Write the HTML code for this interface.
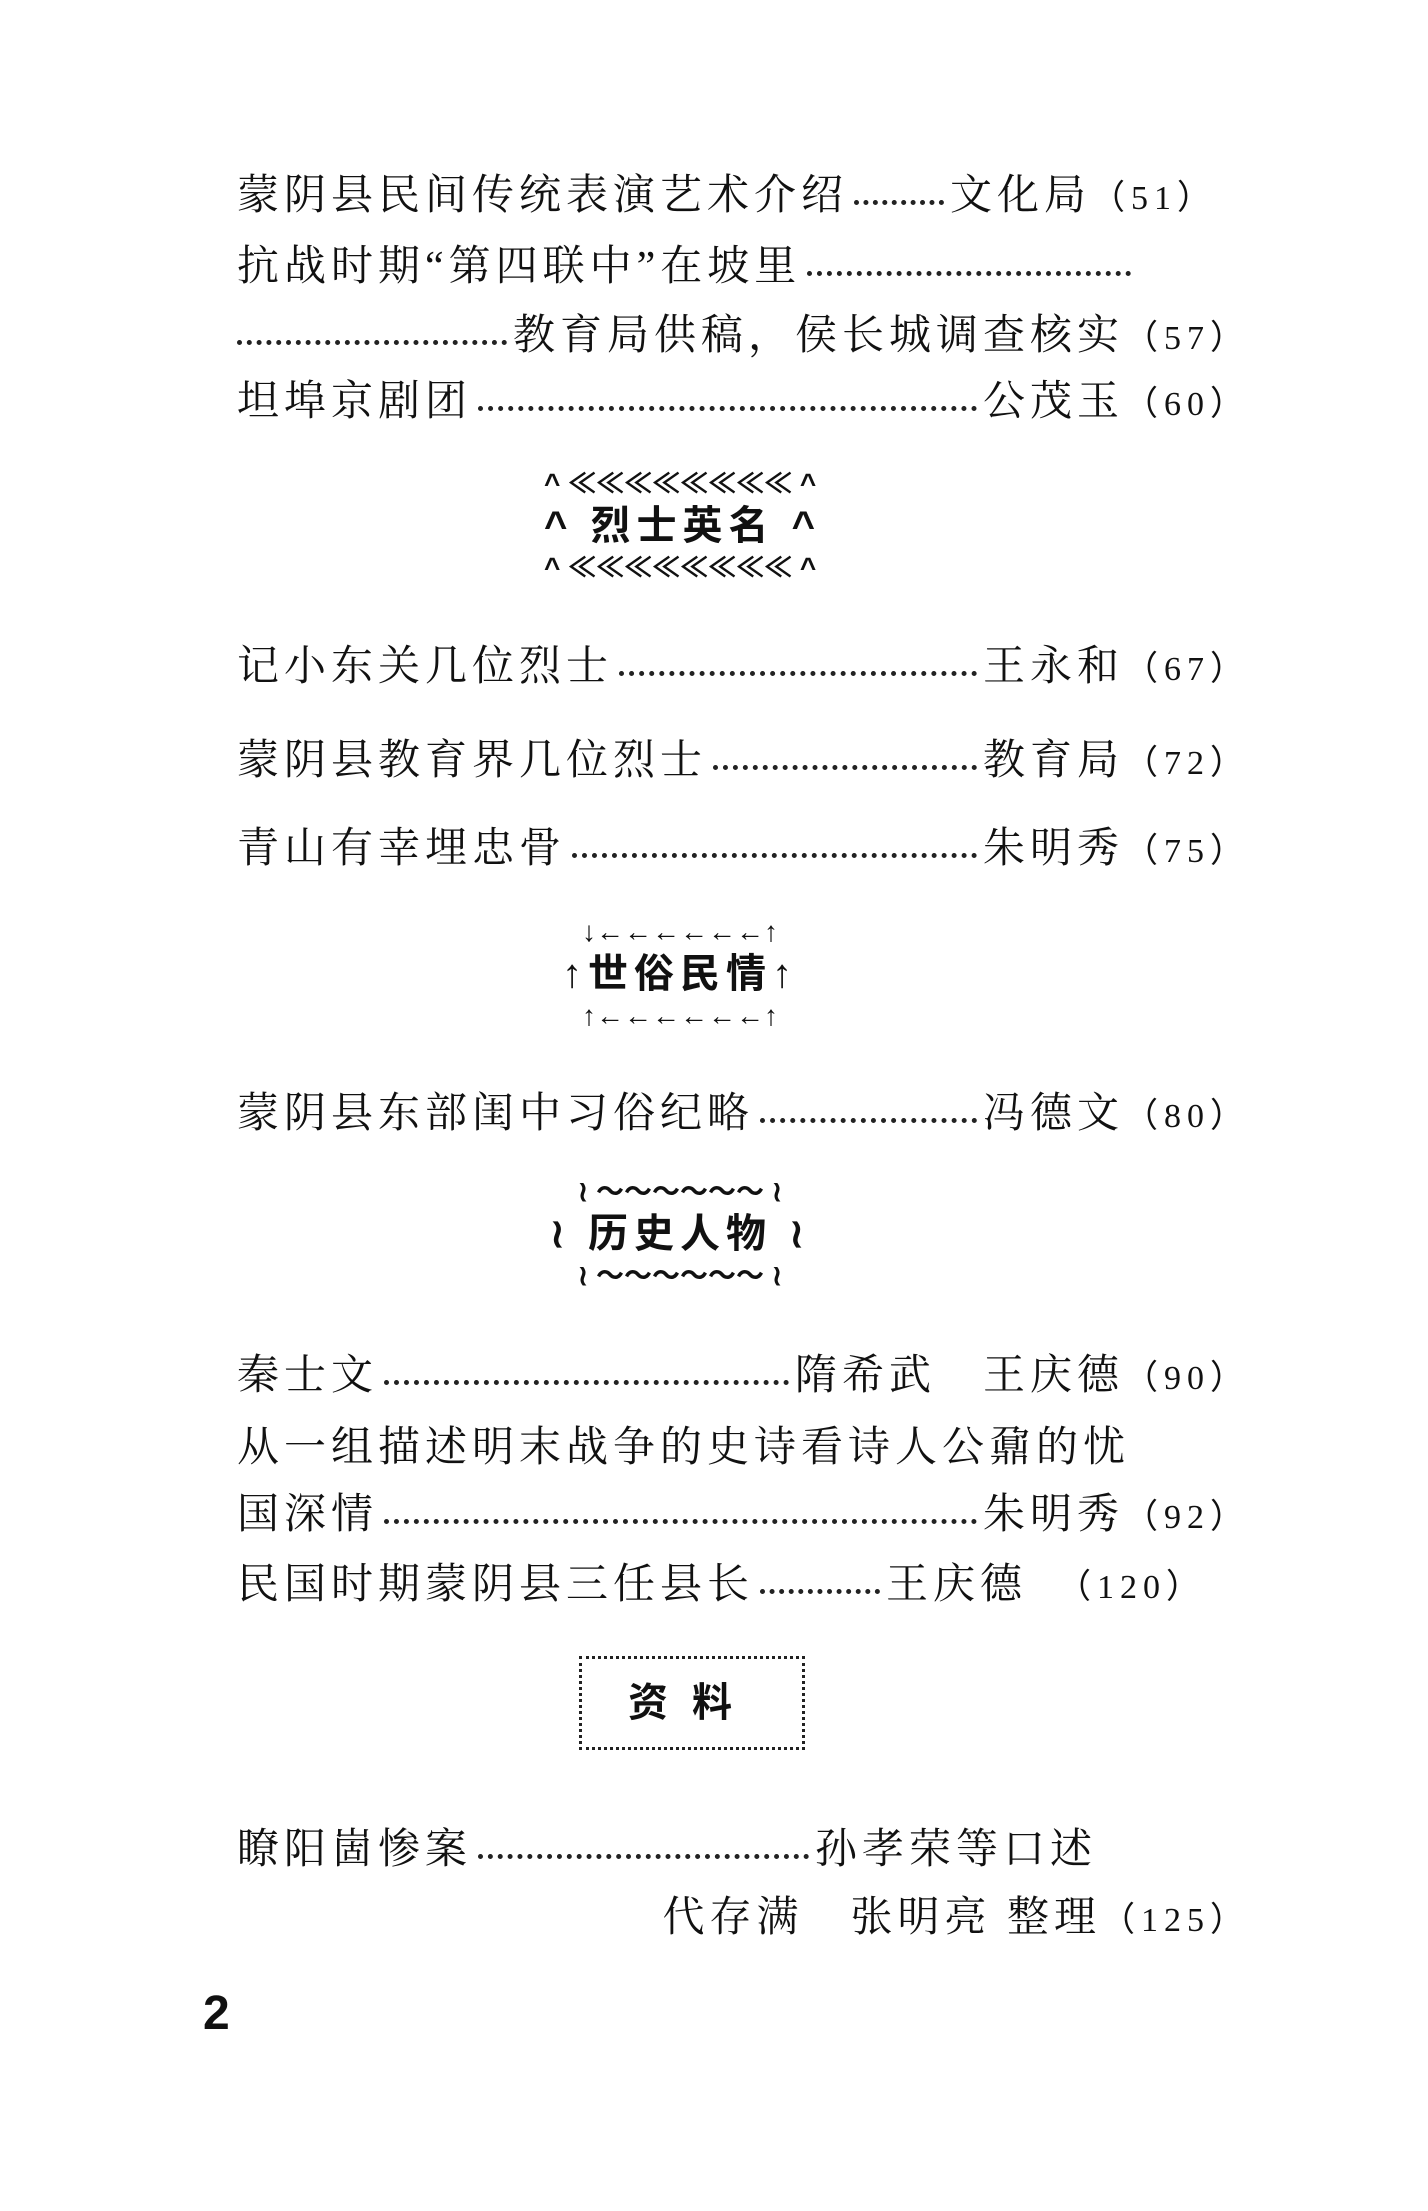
<!DOCTYPE html>
<html><head><meta charset="utf-8"><style>
body{margin:0;width:1428px;height:2211px;background:#fff;position:relative;font-family:"Liberation Serif","Noto Serif CJK SC","Noto Sans CJK SC",serif;color:#111;overflow:hidden}
.l{position:absolute;left:237px;width:1013px;display:flex;align-items:center;font-size:42px;letter-spacing:5px;height:60px;white-space:nowrap}
.d{flex:1;border-bottom:5px dotted #222;margin:0 6px;transform:translateY(10px)}
.n{font-family:"Liberation Serif",serif;font-size:34px;letter-spacing:6px}
.h{position:absolute;left:544px;width:272px;text-align:center;font-family:"Liberation Sans","Noto Sans CJK SC",sans-serif;font-weight:bold;color:#111}
.h .o{font-size:28px;letter-spacing:0px;height:40px;line-height:40px;font-weight:bold;white-space:nowrap}
.h .t{font-size:40px;letter-spacing:6px;height:44px;line-height:44px;white-space:nowrap}
</style></head><body>
<div class="l" style="top:162px"><span>蒙阴县民间传统表演艺术介绍</span><span class="d" style="flex:0 0 90px"></span><span>文化局<span class="n">（51）</span></span></div>
<div class="l" style="top:233px;width:900px"><span>抗战时期“第四联中”在坡里</span><span class="d"></span></div>
<div class="l" style="top:302px"><span class="d" style="margin-left:0"></span><span>教育局供稿，侯长城调查核实<span class="n">（57）</span></span></div>
<div class="l" style="top:368px"><span>坦埠京剧团</span><span class="d"></span><span>公茂玉<span class="n">（60）</span></span></div>

<div class="h" style="top:464px"><div class="o">^ ≪≪≪≪≪≪≪≪ ^</div><div class="t">^ 烈士英名 ^</div><div class="o">^ ≪≪≪≪≪≪≪≪ ^</div></div>

<div class="l" style="top:633px"><span>记小东关几位烈士</span><span class="d"></span><span>王永和<span class="n">（67）</span></span></div>
<div class="l" style="top:727px"><span>蒙阴县教育界几位烈士</span><span class="d"></span><span>教育局<span class="n">（72）</span></span></div>
<div class="l" style="top:815px"><span>青山有幸埋忠骨</span><span class="d"></span><span>朱明秀<span class="n">（75）</span></span></div>

<div class="h" style="top:912px"><div class="o">↓←←←←←←↑</div><div class="t">↑世俗民情↑</div><div class="o">↑←←←←←←↑</div></div>

<div class="l" style="top:1080px"><span>蒙阴县东部闺中习俗纪略</span><span class="d"></span><span>冯德文<span class="n">（80）</span></span></div>

<div class="h" style="top:1172px"><div class="o">≀ ～～～～～～ ≀</div><div class="t">≀ 历史人物 ≀</div><div class="o">≀ ～～～～～～ ≀</div></div>

<div class="l" style="top:1342px"><span>秦士文</span><span class="d"></span><span>隋希武　王庆德<span class="n">（90）</span></span></div>
<div class="l" style="top:1414px"><span>从一组描述明末战争的史诗看诗人公鼐的忧</span></div>
<div class="l" style="top:1481px"><span>国深情</span><span class="d"></span><span>朱明秀<span class="n">（92）</span></span></div>
<div class="l" style="top:1551px"><span>民国时期蒙阴县三任县长</span><span class="d" style="flex:0 0 120px"></span><span>王庆德　<span class="n">（120）</span></span></div>

<div style="position:absolute;left:579px;top:1656px;width:226px;height:94px;border:3px dotted #222;box-sizing:border-box;text-align:center;font-family:'Liberation Sans','Noto Sans CJK SC',sans-serif;font-weight:bold;font-size:40px;line-height:88px;letter-spacing:24px">资料</div>

<div class="l" style="top:1816px;width:860px"><span>瞭阳崮惨案</span><span class="d"></span><span>孙孝荣等口述</span></div>
<div class="l" style="top:1884px;left:627px;width:623px;justify-content:flex-end"><span>代存满　张明亮 整理<span class="n">（125）</span></span></div>

<div style="position:absolute;left:203px;top:1986px;font-family:'Liberation Sans',sans-serif;font-weight:bold;font-size:48px">2</div>
</body></html>
